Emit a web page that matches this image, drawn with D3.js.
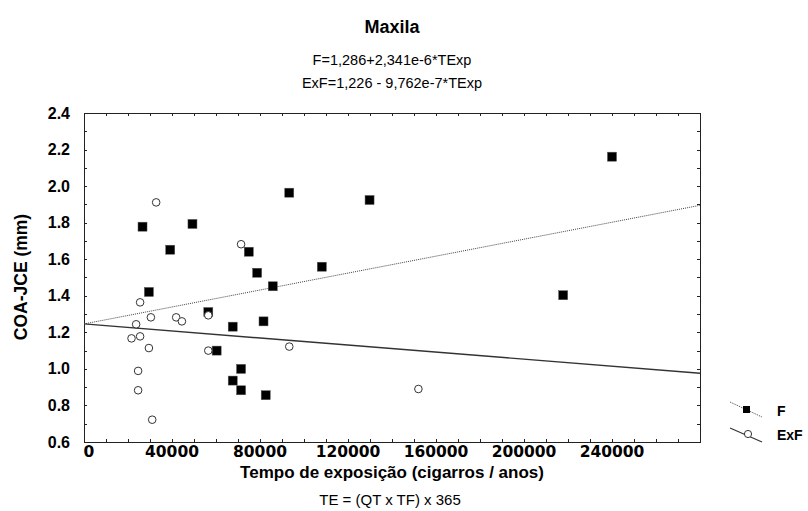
<!DOCTYPE html>
<html>
<head>
<meta charset="utf-8">
<script src="https://cdn.jsdelivr.net/npm/d3@7"></script>
<style>
  body { margin: 0; background: #fff; }
  svg { display: block; }
</style>
</head>
<body>
<svg id="chart" width="808" height="511"></svg>
<script>
// exposure time (cigarros / anos) and COA-JCE (mm)
const fX = [26600, 49300, 39200, 93300, 129800, 74900, 78700, 108100, 85800, 29500,
            56500, 81600, 67600, 60300, 71400, 67600, 71400, 82600, 240000, 217800];
const fY = [1.778, 1.793, 1.652, 1.964, 1.924, 1.641, 1.526, 1.559, 1.452, 1.421,
            1.311, 1.260, 1.231, 1.100, 1.000, 0.936, 0.883, 0.856, 2.161, 1.403];

const exfX = [32800, 71400, 25500, 30400, 41900, 44500, 56500, 23700, 21600,
              25500, 29500, 56500, 93300, 24600, 24600, 31000, 152000];
const exfY = [1.911, 1.682, 1.364, 1.282, 1.282, 1.260, 1.293, 1.244, 1.167,
              1.178, 1.114, 1.100, 1.122, 0.989, 0.883, 0.722, 0.890];

// fitted lines, value at x = 0 and at x = 280000
const fitX = [0, 280000];
const fitF = [1.246, 1.895];
const fitExF = [1.246, 0.976];

const xMajor = [0, 40000, 80000, 120000, 160000, 200000, 240000];
const yMajor = [0.6, 0.8, 1.0, 1.2, 1.4, 1.6, 1.8, 2.0, 2.2, 2.4];

const titleLines = ["F=1,286+2,341e-6*TExp", "ExF=1,226 - 9,762e-7*TExp"];

const svg = d3.select("#chart");
const pl = 84, pr = 700, pt = 113, pb = 442;

const x = d3.scaleLinear().domain([0, 280000]).range([pl, pr]);
const y = d3.scaleLinear().domain([0.6, 2.4]).range([pb, pt]);

const arial = "Arial, 'Liberation Sans', sans-serif";

// titles
svg.append("text")
  .attr("x", 392).attr("y", 33)
  .attr("text-anchor", "middle")
  .attr("font-family", arial).attr("font-weight", "bold").attr("font-size", 18)
  .text("Maxila");

svg.selectAll("text.sub")
  .data(titleLines)
  .join("text")
  .attr("class", "sub")
  .attr("x", 392)
  .attr("y", (d, i) => 65 + i * 23)
  .attr("text-anchor", "middle")
  .attr("font-family", arial).attr("font-size", 14.5)
  .text((d) => d);

// minor ticks on all four sides, pointing inward
const xMinor = d3.range(0, 280001, 10000);
const yMinor = d3.range(6, 25).map((d) => d / 10);
const px = (v) => Math.round(v) + 0.5;

const tickLayer = svg.append("g").attr("stroke", "#222").attr("stroke-width", 1);
tickLayer.selectAll("line.xb")
  .data(xMinor).join("line").attr("class", "xb")
  .attr("x1", (d) => px(x(d))).attr("x2", (d) => px(x(d)))
  .attr("y1", pb).attr("y2", pb - 3);
tickLayer.selectAll("line.xt")
  .data(xMinor).join("line").attr("class", "xt")
  .attr("x1", (d) => px(x(d))).attr("x2", (d) => px(x(d)))
  .attr("y1", pt).attr("y2", pt + 3);
tickLayer.selectAll("line.yl")
  .data(yMinor).join("line").attr("class", "yl")
  .attr("x1", pl).attr("x2", pl + 3)
  .attr("y1", (d) => px(y(d))).attr("y2", (d) => px(y(d)));
tickLayer.selectAll("line.yr")
  .data(yMinor).join("line").attr("class", "yr")
  .attr("x1", pr).attr("x2", pr - 3)
  .attr("y1", (d) => px(y(d))).attr("y2", (d) => px(y(d)));

// frame
svg.append("rect")
  .attr("x", pl + 0.5).attr("y", pt + 0.5)
  .attr("width", pr - pl).attr("height", pb - pt)
  .attr("fill", "none").attr("stroke", "#222").attr("stroke-width", 1);

// tick labels
svg.selectAll("text.xlab")
  .data(xMajor).join("text")
  .attr("class", "xlab")
  .attr("x", (d) => x(d) + (d === 0 ? 5 : 0))
  .attr("y", 457)
  .attr("text-anchor", "middle")
  .attr("font-family", "'DejaVu Sans', sans-serif").attr("font-weight", "bold").attr("font-size", 15.5)
  .text((d) => d);

svg.selectAll("text.ylab")
  .data(yMajor).join("text")
  .attr("class", "ylab")
  .attr("x", 70)
  .attr("y", (d) => y(d) + 5.5)
  .attr("text-anchor", "end")
  .attr("font-family", arial).attr("font-weight", "bold").attr("font-size", 16)
  .text((d) => d.toFixed(1));

// axis titles
svg.append("text")
  .attr("x", 392).attr("y", 478)
  .attr("text-anchor", "middle")
  .attr("font-family", arial).attr("font-weight", "bold").attr("font-size", 17)
  .text("Tempo de exposição (cigarros / anos)");

svg.append("text")
  .attr("x", 390).attr("y", 505)
  .attr("text-anchor", "middle")
  .attr("font-family", arial).attr("font-size", 15)
  .text("TE = (QT x TF) x 365");

svg.append("text")
  .attr("transform", "translate(27,277) rotate(-90)")
  .attr("text-anchor", "middle")
  .attr("font-family", arial).attr("font-weight", "bold").attr("font-size", 17.5)
  .text("COA-JCE (mm)");

// fit lines
const line = d3.line().x((d) => x(d[0])).y((d) => y(d[1]));
svg.append("path")
  .attr("d", line(fitX.map((v, i) => [v, fitF[i]])))
  .attr("fill", "none").attr("stroke", "#444").attr("stroke-width", 1)
  .attr("stroke-dasharray", "1,1");
svg.append("path")
  .attr("d", line(fitX.map((v, i) => [v, fitExF[i]])))
  .attr("fill", "none").attr("stroke", "#333").attr("stroke-width", 1.4);

// points
const sq = 9;
svg.append("g").selectAll("rect")
  .data(fX.map((v, i) => [v, fY[i]]))
  .join("rect")
  .attr("x", (d) => x(d[0]) - sq / 2).attr("y", (d) => y(d[1]) - sq / 2)
  .attr("width", sq).attr("height", sq)
  .attr("fill", "#000").attr("stroke", "#555").attr("stroke-width", 0.5);

svg.append("g").selectAll("circle")
  .data(exfX.map((v, i) => [v, exfY[i]]))
  .join("circle")
  .attr("cx", (d) => x(d[0])).attr("cy", (d) => y(d[1]))
  .attr("r", 3.8)
  .attr("fill", "#fff").attr("stroke", "#333").attr("stroke-width", 1);

// legend
const lg = svg.append("g");
lg.append("line")
  .attr("x1", 730).attr("y1", 402).attr("x2", 762).attr("y2", 417)
  .attr("stroke", "#444").attr("stroke-dasharray", "1,1");
lg.append("rect")
  .attr("x", 743).attr("y", 406).attr("width", 7).attr("height", 7).attr("fill", "#000");
lg.append("line")
  .attr("x1", 730).attr("y1", 428).attr("x2", 762).attr("y2", 442)
  .attr("stroke", "#333").attr("stroke-width", 1.2);
lg.append("circle")
  .attr("cx", 748).attr("cy", 434).attr("r", 3.6)
  .attr("fill", "#fff").attr("stroke", "#333");
lg.append("text")
  .attr("x", 777).attr("y", 416)
  .attr("font-family", arial).attr("font-weight", "bold").attr("font-size", 14)
  .text("F");
lg.append("text")
  .attr("x", 777).attr("y", 440)
  .attr("font-family", arial).attr("font-weight", "bold").attr("font-size", 14)
  .text("ExF");
</script>
</body>
</html>
